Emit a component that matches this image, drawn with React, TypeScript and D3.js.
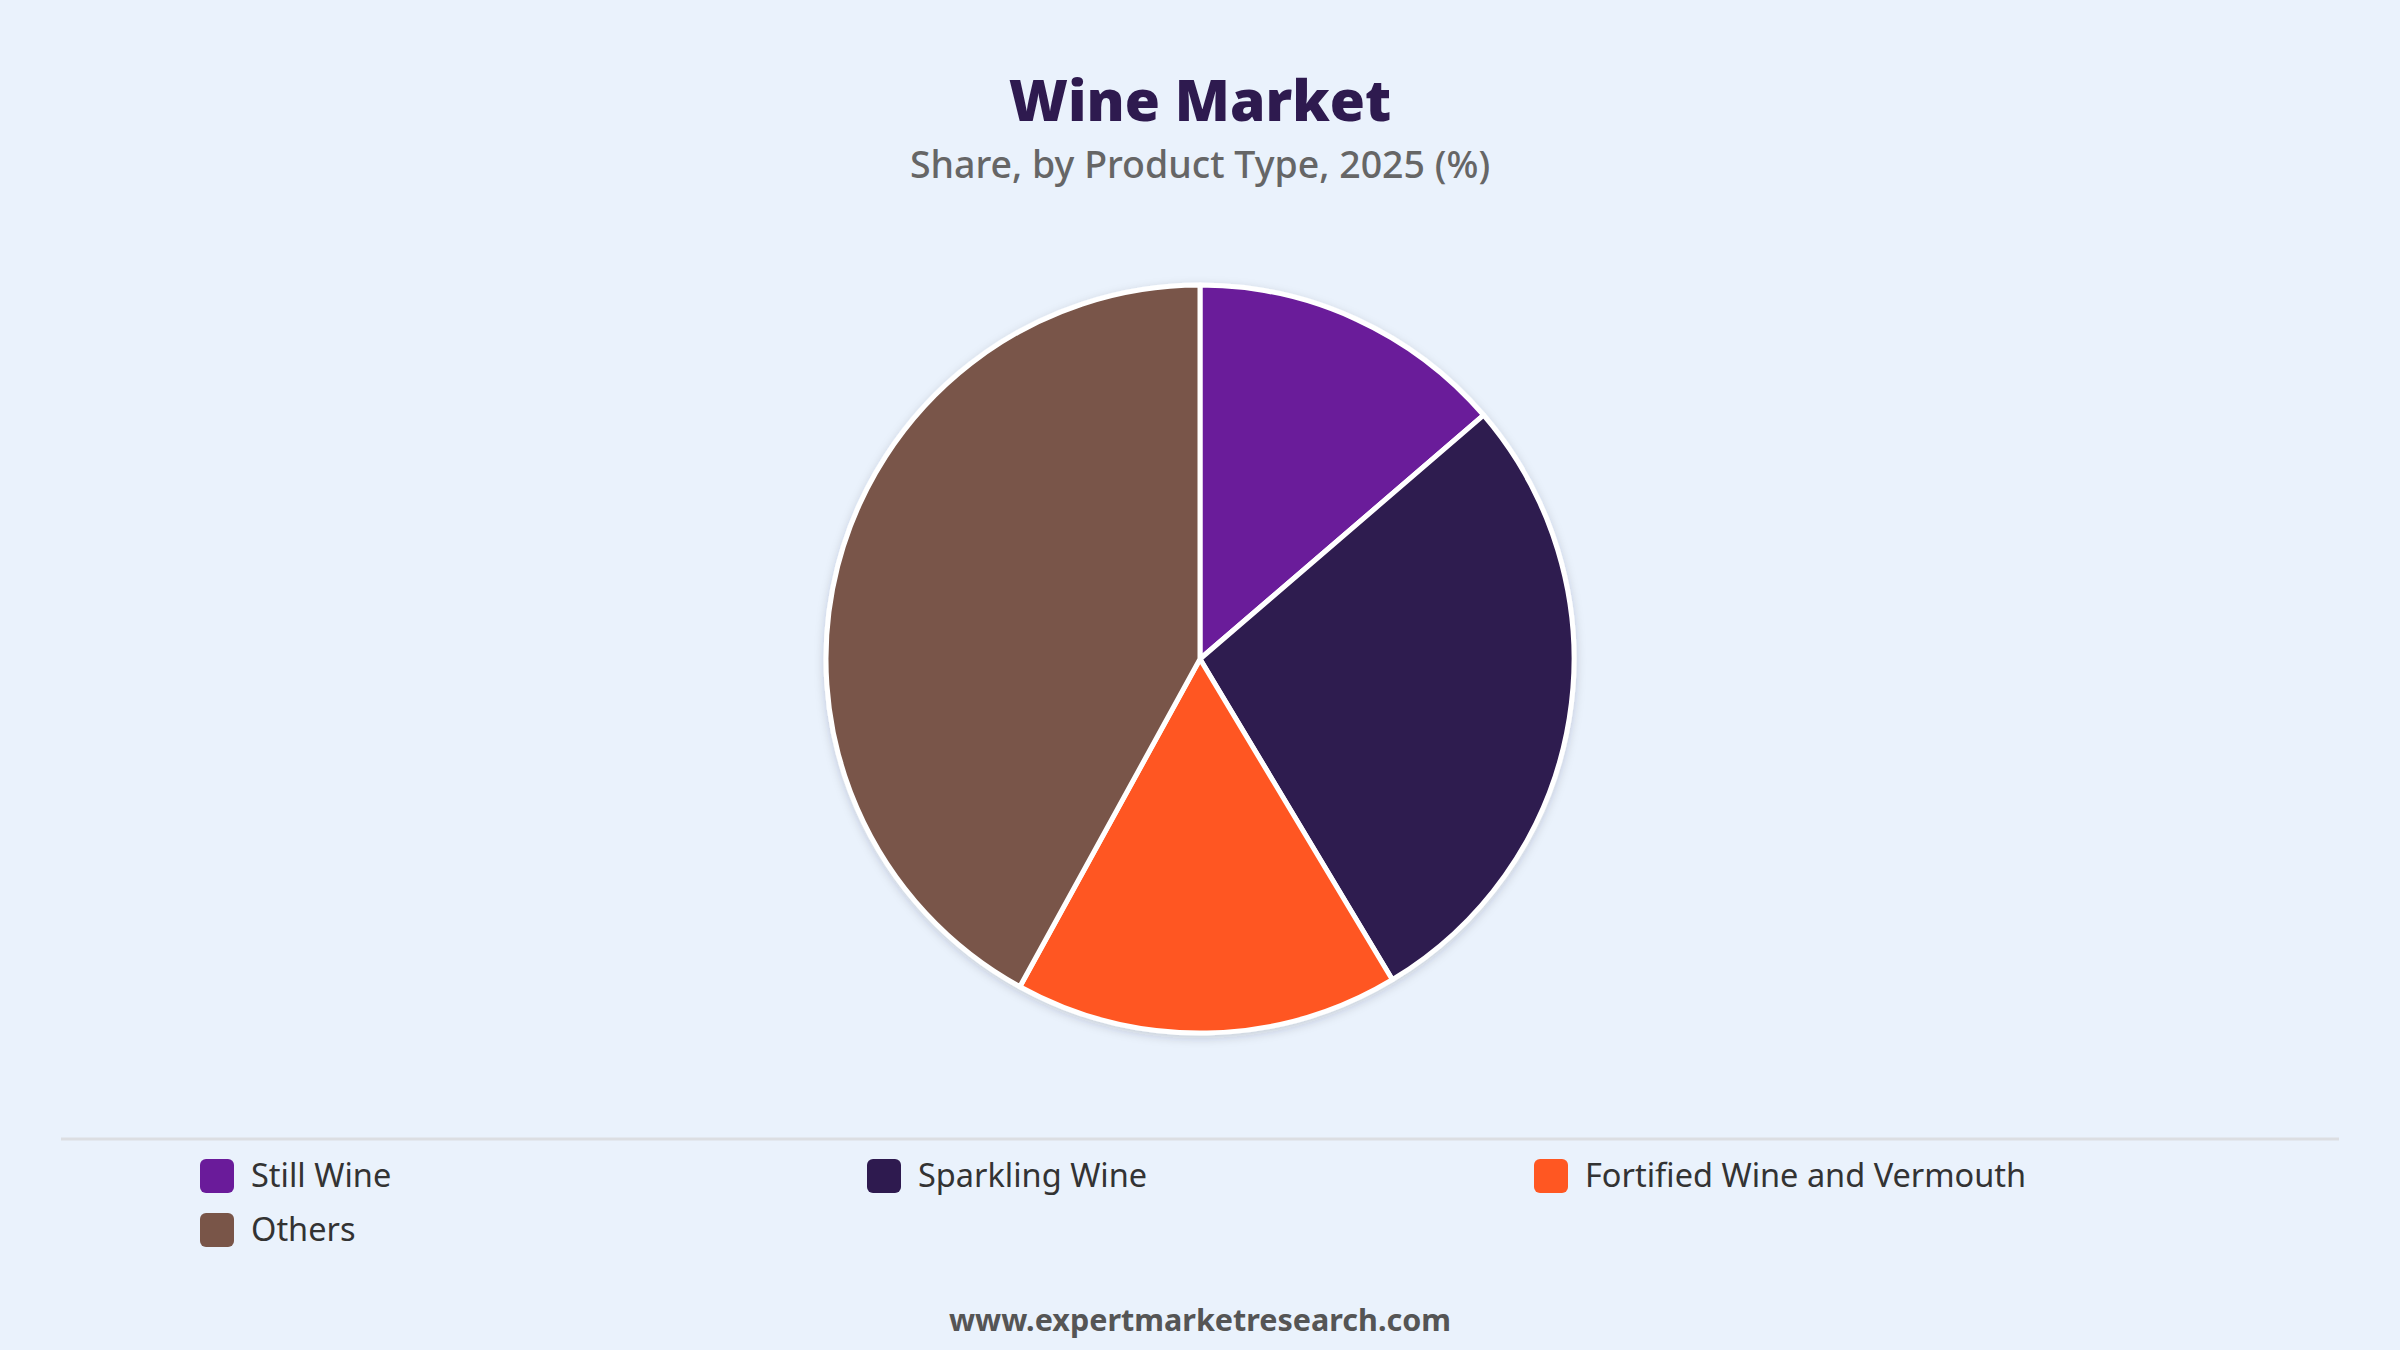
import * as d3 from "d3";

const categories = ["Still Wine", "Sparkling Wine", "Fortified Wine and Vermouth", "Others"];
const shares = [13.7, 27.7, 16.6, 42.0];
const colors = ["#6A1B9A", "#2E1A4F", "#FF5722", "#795548"];

const W = 2400;
const H = 1350;
const FONT = "'Noto Sans', 'Open Sans', sans-serif";

export default function App() {
  const cx = 1200;
  const cy = 659;
  const radius = 374;

  const pie = d3
    .pie<number>()
    .sort(null)
    .value((d) => d);
  const arcs = pie(shares);
  const arc = d3.arc<d3.PieArcDatum<number>>().innerRadius(0).outerRadius(radius);

  // legend: 3 columns starting at x=200
  const col = d3.scaleLinear().domain([0, 1]).range([200, 867]);
  const row = d3.scaleLinear().domain([0, 1]).range([1176, 1230]);

  return (
    <svg
      width={W}
      height={H}
      viewBox={`0 0 ${W} ${H}`}
      style={{ position: "fixed", left: 0, top: 0, display: "block" }}
    >
      <defs>
        <filter id="shadow" x="-20%" y="-20%" width="140%" height="140%">
          <feDropShadow dx="0" dy="3" stdDeviation="5" floodColor="#1a2a40" floodOpacity="0.18" />
        </filter>
      </defs>
      <rect width={W} height={H} fill="#EAF2FC" />

      <text
        x={cx}
        y={121}
        textAnchor="middle"
        fontFamily={FONT}
        fontWeight={900}
        fontSize={57}
        fill="#2E1A4F"
      >
        Wine Market
      </text>
      <text
        x={cx}
        y={178}
        textAnchor="middle"
        fontFamily={FONT}
        fontWeight={500}
        fontSize={37.5}
        fill="#666666"
      >
        Share, by Product Type, 2025 (%)
      </text>

      <g transform={`translate(${cx},${cy})`} filter="url(#shadow)">
        {arcs.map((a, i) => (
          <path
            key={categories[i]}
            d={arc(a) || ""}
            fill={colors[i]}
            stroke="#ffffff"
            strokeWidth={5}
            strokeLinejoin="round"
          />
        ))}
      </g>

      <line x1={61} x2={2339} y1={1139} y2={1139} stroke="#DCDEE2" strokeWidth={3} />

      {categories.map((c, i) => {
        const x = col(i % 3);
        const y = row(Math.floor(i / 3));
        return (
          <g key={c} transform={`translate(${x},${y})`}>
            <rect x={0} y={-17} width={34} height={34} rx={6} fill={colors[i]} />
            <text x={51} y={0} dy="0.35em" fontFamily={FONT} fontSize={32.5} fill="#333333">
              {c}
            </text>
          </g>
        );
      })}

      <text
        x={cx}
        y={1331}
        textAnchor="middle"
        fontFamily={FONT}
        fontWeight={700}
        fontSize={30.5}
        fill="#555555"
      >
        www.expertmarketresearch.com
      </text>
    </svg>
  );
}
